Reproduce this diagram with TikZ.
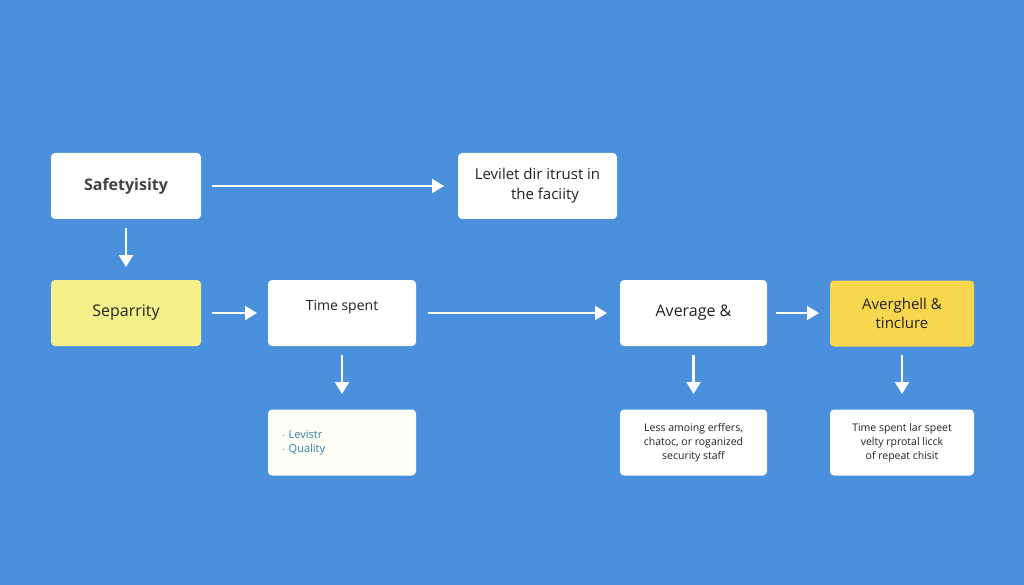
\documentclass[tikz,border=0pt]{standalone}
\usepackage{fontspec}
\setmainfont{Open Sans}
\newcommand\semi{\bfseries}
\usetikzlibrary{arrows.meta}
\definecolor{bg}{HTML}{4A90DC}
\definecolor{ylight}{HTML}{F6F08A}
\definecolor{ydark}{HTML}{F8D64E}
\definecolor{txt}{HTML}{222222}
\definecolor{teal}{HTML}{2E7FA8}
\begin{document}
\begin{tikzpicture}[x=1pt,y=-1pt,
 box/.style={draw=none,fill=white,rounded corners=4pt,minimum width=#1,minimum height=66pt,align=center,inner sep=2pt,text=txt},
 box/.default=150pt,
 arr/.style={draw=white,line width=2.2pt,-{Triangle[length=12pt,width=14pt]}}]
\fill[bg] (0,0) rectangle (1024,585);
\useasboundingbox (0,0) rectangle (1024,585);
\node[box=150pt,font=\fontsize{16}{18}\selectfont\semi,text=txt!85] (s) at (126,186) {Safetyisity};
\node[box=159pt,font=\fontsize{15}{20}\selectfont] (l) at (537.5,186) {Levilet dir itrust in\\ \quad the faciity};
\node[box=150pt,fill=ylight,font=\fontsize{16}{18}\selectfont] (sep) at (126,313) {Separrity};
\node[box=148pt,font=\fontsize{14}{18}\selectfont] (t) at (342,313) {Time spent\\[-2pt]};
\node[box=147pt,font=\fontsize{16}{18}\selectfont] (a) at (693.5,313) {Average \&};
\node[box=144pt,fill=ydark,font=\fontsize{15}{19}\selectfont] (av) at (902,313.5) {Averghell \&\\tinclure};
\node[box=148pt,fill=white!96!yellow,align=left,text=teal,font=\fontsize{11}{14}\selectfont,text width=120pt] (lv) at (342,442.5) {$\cdot$ Levistr\\$\cdot$ Quality\\[8pt]};
\node[box=147pt,font=\fontsize{10.5}{14}\selectfont] (le) at (693.5,442.5) {Less amoing erffers,\\chatoc, or roganized\\security staff};
\node[box=144pt,font=\fontsize{10.5}{14}\selectfont] (tl) at (902,442.5) {Time spent lar speet\\velty rprotal licck\\of repeat chisit};
\draw[arr] (212,186) -- (444,186);
\draw[arr] (126,228) -- (126,267);
\draw[arr] (212,313) -- (257,313);
\draw[arr] (428,313) -- (607,313);
\draw[arr] (776,313) -- (819,313);
\draw[arr] (342,355) -- (342,394);
\draw[arr] (693.5,355) -- (693.5,394);
\draw[arr] (902,355) -- (902,394);
\end{tikzpicture}
\end{document}
